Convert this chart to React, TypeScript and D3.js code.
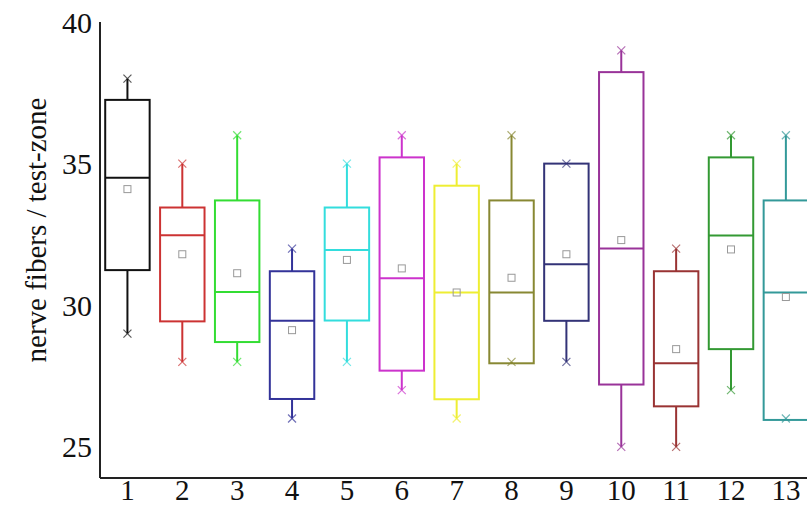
import React, { useEffect, useRef } from 'react';
import * as d3 from 'd3';

const groups = ['1', '2', '3', '4', '5', '6', '7', '8', '9', '10', '11', '12', '13'];
const whiskerHigh = [38, 35, 36, 32, 35, 36, 35, 36, 35, 39, 32, 36, 36];
const q3 = [37.25, 33.45, 33.7, 31.2, 33.45, 35.22, 34.22, 33.7, 35, 38.23, 31.2, 35.22, 33.7];
const median = [34.5, 32.47, 30.47, 29.45, 31.95, 30.95, 30.45, 30.45, 31.45, 32, 27.95, 32.46, 30.45];
const mean = [34.1, 31.8, 31.13, 29.12, 31.6, 31.3, 30.45, 30.97, 31.8, 32.3, 28.45, 31.97, 30.29];
const q1 = [31.24, 29.43, 28.7, 26.69, 29.46, 27.69, 26.68, 27.95, 29.45, 27.2, 26.43, 28.45, 25.95];
const whiskerLow = [29, 28, 28, 26, 28, 27, 26, 28, 28, 25, 25, 27, 26];
const colors = ['#111111', '#cc3333', '#33dd33', '#333399', '#33dddd', '#cc33cc', '#eeee33', '#888833', '#333377', '#993399', '#993333', '#339933', '#339999'];
const yTicks = [25, 30, 35, 40];

const App = () => {
    const svgRef = useRef(null);

    useEffect(() => {
        const svg = d3.select(svgRef.current);
        svg.selectAll('*').remove();
        const font = '"Liberation Serif", "DejaVu Serif", serif';

        const x = d3.scaleBand()
            .domain(groups)
            .range([100, 100 + 13 * 54.87])
            .paddingInner(0.19)
            .paddingOuter(0.095);
        const y = d3.scaleLinear().domain([23.9, 40]).range([478, 22]);

        // axes lines
        svg.append('line').attr('x1', 100).attr('x2', 100).attr('y1', y(40)).attr('y2', 478)
            .attr('stroke', '#222').attr('stroke-width', 2);
        svg.append('line').attr('x1', 100).attr('x2', 807).attr('y1', 478).attr('y2', 478)
            .attr('stroke', '#222').attr('stroke-width', 2);

        svg.selectAll('.ytick').data(yTicks).enter().append('text')
            .attr('x', 92).attr('y', (d) => y(d)).attr('dy', '0.35em')
            .attr('text-anchor', 'end').attr('font-family', font).attr('font-size', 30)
            .attr('fill', '#111').text((d) => d);

        svg.selectAll('.xtick').data(groups).enter().append('text')
            .attr('x', (d) => x(d) + x.bandwidth() / 2).attr('y', 500)
            .attr('text-anchor', 'middle').attr('font-family', font).attr('font-size', 29)
            .attr('fill', '#111').text((d) => d);

        svg.append('text')
            .attr('transform', `translate(46, 230) rotate(-90)`)
            .attr('text-anchor', 'middle').attr('font-family', font).attr('font-size', 29)
            .attr('fill', '#111').text('nerve fibers / test-zone');

        const w = x.bandwidth();
        const g = svg.selectAll('.box').data(groups).enter().append('g')
            .attr('transform', (d) => `translate(${x(d)},0)`);

        g.append('line').attr('x1', w / 2).attr('x2', w / 2)
            .attr('y1', (d, i) => y(whiskerHigh[i])).attr('y2', (d, i) => y(q3[i]))
            .attr('stroke', (d, i) => colors[i]).attr('stroke-width', 2);
        g.append('line').attr('x1', w / 2).attr('x2', w / 2)
            .attr('y1', (d, i) => y(q1[i])).attr('y2', (d, i) => y(whiskerLow[i]))
            .attr('stroke', (d, i) => colors[i]).attr('stroke-width', 2);
        g.append('rect').attr('x', 0).attr('width', w)
            .attr('y', (d, i) => y(q3[i])).attr('height', (d, i) => y(q1[i]) - y(q3[i]))
            .attr('fill', 'none').attr('stroke', (d, i) => colors[i]).attr('stroke-width', 2);
        g.append('line').attr('x1', 0).attr('x2', w)
            .attr('y1', (d, i) => y(median[i])).attr('y2', (d, i) => y(median[i]))
            .attr('stroke', (d, i) => colors[i]).attr('stroke-width', 2);
        g.append('rect').attr('x', w / 2 - 3.5).attr('width', 7)
            .attr('y', (d, i) => y(mean[i]) - 3.5).attr('height', 7)
            .attr('fill', 'none').attr('stroke', '#999').attr('stroke-width', 1);

        const cross = (vals) => {
            g.append('path')
                .attr('d', (d, i) => {
                    const cy = y(vals[i]);
                    const c = w / 2;
                    return `M${c - 4},${cy - 4}L${c + 4},${cy + 4}M${c - 4},${cy + 4}L${c + 4},${cy - 4}`;
                })
                .attr('stroke', (d, i) => colors[i]).attr('stroke-opacity', 0.7).attr('stroke-width', 1.2);
        };
        cross(whiskerHigh);
        cross(whiskerLow);
    }, []);

    return <svg ref={svgRef} width={807} height={508} style={{ position: 'absolute', left: 0, top: 0, background: '#fff' }}></svg>;
};

export default App;
